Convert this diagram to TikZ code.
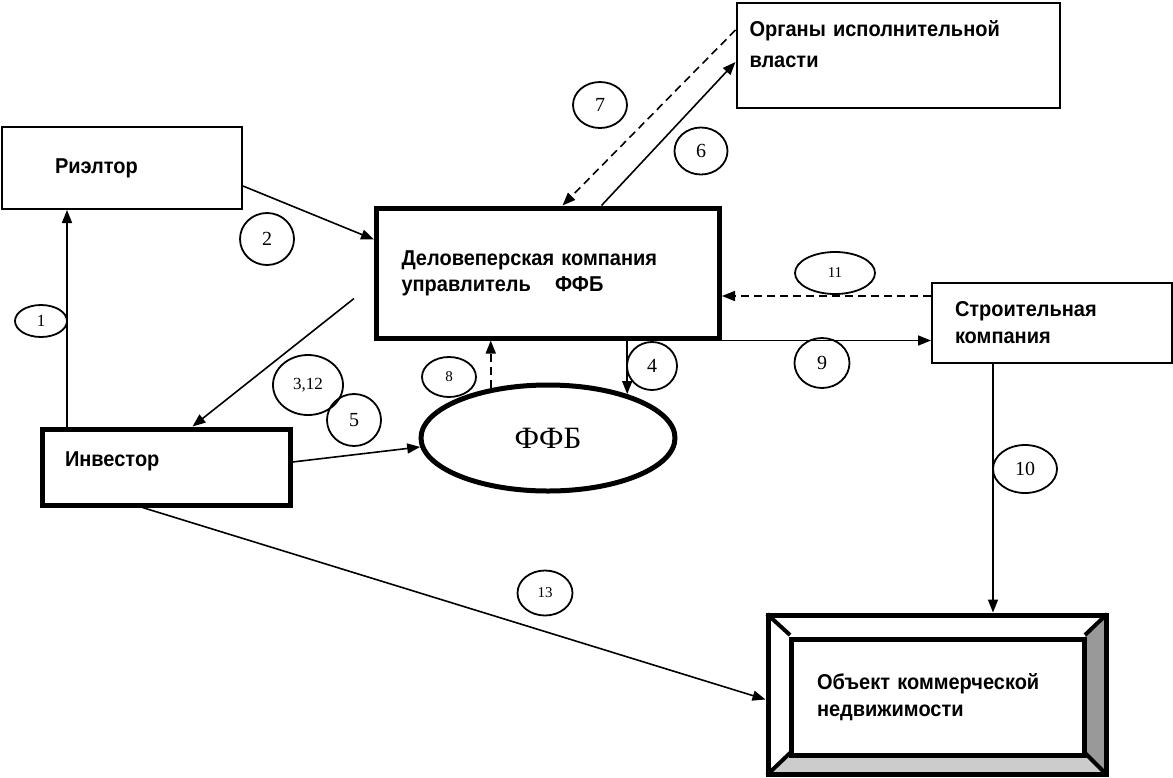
\documentclass[tikz,border=0pt]{standalone}
\usepackage{fontspec}
\setmainfont[FakeStretch=0.93]{Liberation Sans}
\newfontfamily\numfont{Liberation Serif}
\usepackage{tikz}
\definecolor{bevdark}{RGB}{153,153,153}
\definecolor{bevlight}{RGB}{204,204,204}
\usetikzlibrary{positioning,shapes.geometric,arrows.meta}

\begin{document}
\begin{tikzpicture}[x=1pt,y=-1pt,
  thinbox/.style={rectangle, draw, line width=2pt, align=left, font=\bfseries\fontsize{21.5}{27}\selectfont},
  thickbox/.style={thinbox, line width=5pt},
  num/.style={ellipse, draw, line width=1.8pt, inner sep=0pt, font=\numfont\fontsize{20}{20}\selectfont},
  smallnum/.style={num, font=\numfont\fontsize{15}{15}\selectfont},
  arr/.style={-{Triangle[length=13pt,width=10pt]}, line width=1.6pt},
  darr/.style={arr, dash pattern=on 8pt off 5pt}]
\useasboundingbox (0,0) rectangle (1173,777);

\node[thinbox, minimum width=240pt, minimum height=82pt, text width=134pt, inner xsep=53pt] (realtor) at (122,168) {Риэлтор};
\node[thinbox, minimum width=323pt, minimum height=105pt, text width=297pt, inner xsep=13pt, text depth=54pt, font=\bfseries\fontsize{21.5}{31}\selectfont] (organy) at (898,55) {Органы исполнительной\\власти};
\node[thickbox, minimum width=343pt, minimum height=130pt, text width=293pt, inner xsep=25pt, font=\bfseries\fontsize{21.5}{26}\selectfont] (dk) at (548,273) {Деловеперская компания\\управлитель\hspace{17pt} ФФБ};
\node[thinbox, minimum width=240pt, minimum height=80pt, text width=194pt, inner xsep=23pt] (stroit) at (1052,323) {Строительная\\компания};
\node[thickbox, minimum width=248pt, minimum height=76pt, text width=202pt, inner xsep=23pt, text depth=15pt] (investor) at (166,467) {Инвестор};
\node[ellipse, draw, line width=5pt, minimum width=254pt, minimum height=106pt, font=\numfont\fontsize{31}{31}\selectfont] (fund) at (548,438) {ФФБ};

\fill[bevdark] (1107,614) -- (1107,775) -- (1085,753) -- (1085,635) -- cycle;
\fill[bevlight] (767,775) -- (1107,775) -- (1085,753) -- (790,753) -- cycle;
\draw[line width=4pt] (767,614) -- (790,635) (1107,614) -- (1085,635) (767,775) -- (790,753) (1107,775) -- (1085,753);
\node[rectangle, draw, line width=5pt, minimum width=338pt, minimum height=159pt] (object) at (937,694.5) {};
\node[thickbox, minimum width=293pt, minimum height=116pt, text width=241pt, inner xsep=26pt] (objin) at (937.5,697) {Объект коммерческой\\недвижимости};

\draw[arr] ([xshift=27.5pt]investor.north west) -- ([xshift=66pt]realtor.south west);
\draw[arr] ([yshift=-18pt]realtor.east) -- ([yshift=-34pt]dk.north west);
\draw[arr] ([xshift=-20pt,yshift=-93pt]dk.north west) -- ([xshift=153pt]investor.north west);
\draw[arr] ([yshift=5pt]investor.east) -- (fund.184);
\draw[darr] (fund.139) -- (fund.139 |- dk.south);
\draw[arr] (fund.29 |- dk.south) -- (fund.29);
\draw[arr] ([xshift=53.5pt]dk.north) -- ([yshift=-7pt]organy.west);
\draw[darr] ([yshift=25pt]organy.west) -- ([xshift=14.5pt]dk.north);
\draw[darr] ([yshift=27pt]stroit.west) -- ([yshift=27pt]stroit.west -| dk.east);
\draw[arr] (dk.south east) -- (dk.south east -| stroit.west);
\draw[arr] ([xshift=-59pt]stroit.south) -- ([xshift=-59pt]stroit.south |- object.north);
\draw[arr] ([xshift=103pt]investor.south west) -- ([yshift=-5pt]object.west);

\node[smallnum, minimum width=52pt, minimum height=32pt, font=\numfont\fontsize{17}{17}\selectfont] (n1) at (41,321) {1};
\node[num, minimum width=54pt, minimum height=52pt] (n2) at (267,239) {2};
\node[num, minimum width=70pt, minimum height=60pt, font=\numfont\fontsize{17}{17}\selectfont] (n312) at (308,385) {3,12};
\node[num, minimum width=54pt, minimum height=52pt] (n5) at (354,420) {5};
\node[smallnum, minimum width=54pt, minimum height=40pt] (n8) at (449,377) {8};
\node[num, minimum width=50pt, minimum height=48pt] (n4) at (652,366) {4};
\node[num, minimum width=54pt, minimum height=46pt] (n7) at (600,105) {7};
\node[num, minimum width=53pt, minimum height=47pt] (n6) at (701,151) {6};
\node[smallnum, minimum width=80pt, minimum height=42pt] (n11) at (835,273) {11};
\node[num, minimum width=55pt, minimum height=50pt] (n9) at (822,363) {9};
\node[num, minimum width=64pt, minimum height=48pt] (n10) at (1025,469) {10};
\node[smallnum, minimum width=55pt, minimum height=45pt] (n13) at (545,593) {13};

\end{tikzpicture}
\end{document}
